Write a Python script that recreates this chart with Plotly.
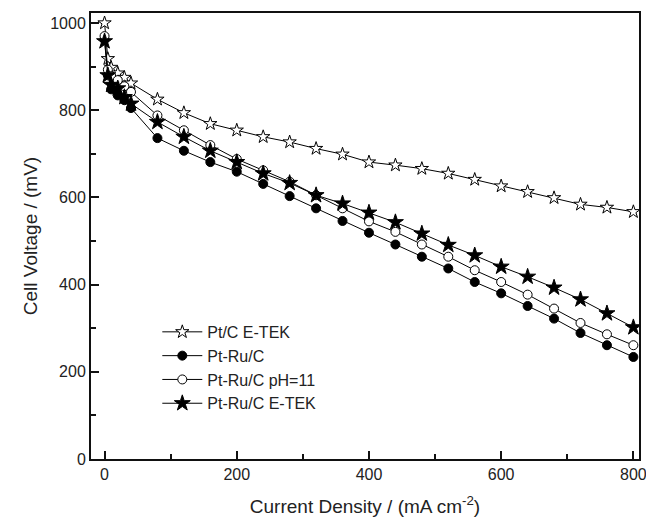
import plotly.graph_objects as go

current = [0, 5, 10, 20, 30, 40, 80, 120, 160, 200, 240, 280, 320, 360, 400,
           440, 480, 520, 560, 600, 640, 680, 720, 760, 800]

pt_c_etek = [1000, 918, 898, 885, 875, 862, 825, 794, 769, 754, 739, 727, 712, 699, 681,
             674, 666, 655, 641, 626, 613, 599, 584, 577, 567]
pt_ru_c = [962, 880, 848, 834, 823, 805, 736, 707, 681, 659, 631, 603, 575, 546, 519,
           492, 464, 437, 406, 380, 351, 322, 289, 261, 234]
pt_ru_c_ph11 = [970, 893, 878, 869, 855, 842, 788, 754, 720, 688, 662, 636, 605, 575, 545,
                521, 492, 464, 433, 406, 377, 345, 312, 286, 261]
pt_ru_c_etek = [958, 880, 858, 850, 830, 815, 773, 739, 707, 681, 655, 633, 605, 586, 565,
                543, 517, 491, 467, 441, 418, 393, 366, 334, 302]

names = ["Pt/C E-TEK", "Pt-Ru/C", "Pt-Ru/C pH=11", "Pt-Ru/C E-TEK"]
series = [pt_c_etek, pt_ru_c, pt_ru_c_ph11, pt_ru_c_etek]
symbols = ["star", "circle", "circle", "star"]
fills = ["white", "black", "white", "black"]
sizes = [10, 9, 9, 12]

FONT = "Liberation Sans, Arial"

fig = go.Figure()
for name, ys, sym, fc, sz in zip(names, series, symbols, fills, sizes):
    fig.add_trace(go.Scatter(
        x=current, y=ys, name=name, mode="lines+markers",
        line=dict(color="black", width=1),
        marker=dict(symbol=sym, size=sz, color=fc, line=dict(color="black", width=1)),
    ))

axis_common = dict(
    showgrid=False, zeroline=False, showline=True, linecolor="#111", linewidth=2,
    mirror=True, ticks="inside", ticklen=8, tickwidth=1.5, tickcolor="#111",
    tickfont=dict(family=FONT, size=16, color="#222"),
    minor=dict(ticks="inside", ticklen=5, tickwidth=1.5, tickcolor="#111", dtick=100),
    dtick=200, automargin=False, ticklabeloverflow="allow",
)

fig.update_xaxes(range=[-20.5, 808.5], tick0=0,
                 title=dict(text="Current Density / (mA cm<sup>-2</sup>)",
                            font=dict(family=FONT, size=19, color="#222"),
                            standoff=17),
                 **axis_common)
fig.update_yaxes(range=[0, 1023], tick0=0,
                 title=dict(text="Cell Voltage / (mV)",
                            font=dict(family=FONT, size=19, color="#222"),
                            standoff=8),
                 **axis_common)

fig.update_layout(
    width=646, height=520,
    margin=dict(l=91, r=7, t=13, b=61),
    plot_bgcolor="white", paper_bgcolor="white",
    showlegend=True,
    legend=dict(x=0.121, y=0.323, xanchor="left", yanchor="top",
                bgcolor="rgba(0,0,0,0)", borderwidth=0,
                font=dict(family=FONT, size=16, color="#222"),
                tracegroupgap=0, itemwidth=40),
)

# remove the browser's default body margin so the figure fills the window exactly
fig.write_html("out.html",
               config={"displayModeBar": False},
               post_script="document.body.style.margin='0';document.body.style.overflow='hidden';")
